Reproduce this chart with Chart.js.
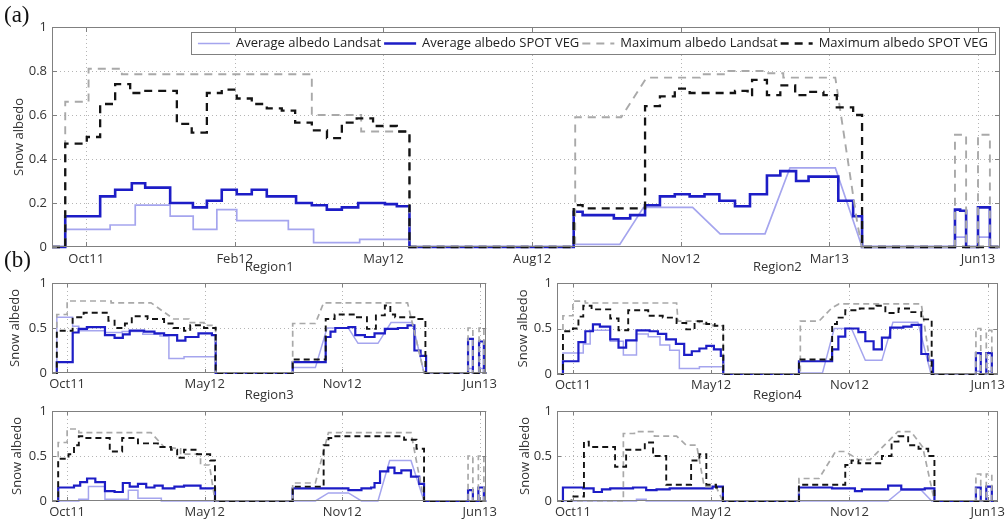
<!DOCTYPE html>
<html>
<head>
<meta charset="utf-8">
<script src="https://cdn.jsdelivr.net/npm/chart.js@4.4.1/dist/chart.umd.min.js"></script>
<style>
body { margin: 0; background: #fff; }
#wrap { position: relative; width: 1008px; height: 521px; overflow: hidden; background: #fff; }
canvas { position: absolute; }
.tag { position: absolute; font-family: "Liberation Serif", "DejaVu Serif", serif; font-size: 23px; color: #111; z-index: 5; }
</style>
</head>
<body>
<div id="wrap">
  <canvas id="chartA" width="1008" height="272" style="left:0;top:0"></canvas>
  <canvas id="chartR1" width="500" height="130" style="left:0;top:262px"></canvas>
  <canvas id="chartR2" width="508" height="130" style="left:500px;top:262px"></canvas>
  <canvas id="chartR3" width="500" height="131" style="left:0;top:390px"></canvas>
  <canvas id="chartR4" width="508" height="131" style="left:500px;top:390px"></canvas>
  <div class="tag" style="left:4px;top:2px">(a)</div>
  <div class="tag" style="left:4px;top:247px">(b)</div>
</div>
<script>
// x is counted in composite periods from Oct11 (tick labels every 10 in (a), every 20 in (b))
const mainTickPos = [0, 10, 20, 30, 40, 50, 60];
const mainTickLabels = ['Oct11', 'Feb12', 'May12', 'Aug12', 'Nov12', 'Mar13', 'Jun13'];
const regionTickPos = [0, 20, 40, 60];
const regionTickLabels = ['Oct11', 'May12', 'Nov12', 'Jun13'];
const seriesNames = ['Average albedo Landsat', 'Average albedo SPOT VEG', 'Maximum albedo Landsat', 'Maximum albedo SPOT VEG'];
const regionTitles = ['Region1', 'Region2', 'Region3', 'Region4'];

// SPOT VEG series: [x, y] where y holds until the next x (stairs)
// Landsat series: [x, y] vertices joined by straight lines

// (a) whole area
const aAvgLandsat = [[-2.3,0],[-1.41,0],[-1.41,0.08],[1.61,0.08],[1.61,0.10],[3.3,0.10],[3.3,0.19],[5.65,0.19],[5.65,0.14],[7.2,0.14],[7.2,0.08],[8.79,0.08],[8.79,0.17],[10.13,0.17],[10.13,0.12],[13.6,0.12],[13.6,0.08],[15.3,0.08],[15.3,0.02],[18.4,0.02],[18.4,0.035],[21.75,0.035],[21.75,0],[32.8,0],[32.8,0.012],[35.9,0.012],[37.5,0.18],[40.8,0.18],[42.65,0.06],[45.67,0.06],[47.35,0.36],[50.4,0.36],[52.2,0],[58.45,0],[58.45,0.045],[59.2,0.045],[59.2,0],[60.0,0],[60.0,0.045],[60.8,0.045],[60.8,0],[61.48,0]];
const aAvgSpot = [[-2.3,0],[-1.41,0.14],[0.94,0.23],[1.95,0.26],[3.07,0.29],[3.97,0.27],[5.65,0.20],[7.18,0.18],[8.12,0.21],[9.12,0.26],[10.13,0.24],[11.14,0.26],[12.15,0.23],[14.12,0.20],[15.18,0.19],[16.19,0.17],[17.2,0.18],[18.3,0.20],[20.1,0.195],[20.9,0.185],[21.75,0],[32.8,0.16],[33.4,0.145],[35.5,0.13],[36.6,0.145],[37.6,0.19],[38.6,0.23],[39.6,0.24],[40.6,0.23],[41.6,0.24],[42.6,0.21],[43.65,0.185],[44.66,0.24],[45.8,0.325],[46.7,0.345],[47.76,0.30],[48.6,0.32],[50.6,0.21],[51.6,0.14],[52.2,0],[58.45,0.17],[58.8,0.165],[59.2,0],[60.0,0.18],[60.8,0],[61.48,0]];
const aMaxLandsat = [[-2.3,0],[-1.41,0],[-1.41,0.66],[0.16,0.66],[0.16,0.81],[2.4,0.81],[2.4,0.785],[15.18,0.785],[15.18,0.60],[18.5,0.60],[18.5,0.525],[21.75,0.525],[21.75,0],[32.9,0],[32.9,0.59],[36.0,0.59],[37.7,0.77],[41.3,0.77],[41.3,0.785],[43.0,0.785],[43.0,0.80],[45.6,0.80],[45.6,0.79],[46.9,0.79],[46.9,0.77],[50.4,0.77],[51.9,0.1],[52.2,0],[58.45,0],[58.45,0.51],[59.2,0.51],[59.2,0],[60.0,0],[60.0,0.51],[60.8,0.51],[60.8,0],[61.48,0]];
const aMaxSpot = [[-2.3,0],[-1.41,0.47],[0.04,0.50],[0.94,0.65],[1.95,0.74],[2.96,0.70],[3.9,0.71],[6.1,0.56],[7.1,0.52],[8.12,0.70],[9.12,0.715],[10.13,0.675],[11.14,0.65],[12.15,0.63],[13.16,0.62],[14.06,0.565],[15.18,0.53],[16.2,0.495],[17.2,0.565],[18.2,0.585],[19.3,0.55],[20.9,0.525],[21.75,0],[32.8,0.19],[33.4,0.176],[37.6,0.64],[38.6,0.685],[39.6,0.72],[40.6,0.70],[43.65,0.71],[44.5,0.69],[44.8,0.76],[45.8,0.69],[46.7,0.735],[47.7,0.69],[48.5,0.705],[49.6,0.69],[50.5,0.635],[51.6,0.60],[52.2,0],[61.48,0]];

// (b) Region1
const r1AvgLandsat = [[-2.2,0],[-1.5,0],[-1.5,0.62],[0.8,0.62],[0.8,0.52],[1.7,0.52],[1.7,0.47],[5.5,0.47],[5.5,0.45],[8,0.45],[8,0.46],[11,0.46],[11,0.43],[13.5,0.43],[13.5,0.41],[14.8,0.41],[14.8,0.16],[17,0.16],[17,0.18],[21.6,0.18],[21.6,0],[32.8,0],[32.8,0.06],[36.1,0.06],[37.8,0.50],[40.9,0.50],[42.3,0.33],[45.2,0.33],[47.1,0.56],[50.2,0.56],[51.9,0],[58.3,0],[58.3,0.05],[59,0.05],[59,0],[59.9,0],[59.9,0.05],[60.6,0.05],[60.6,0],[60.95,0]];
const r1AvgSpot = [[-2.2,0],[-1.5,0.12],[0.81,0.45],[1.67,0.49],[2.87,0.51],[5.5,0.42],[6.9,0.39],[8.1,0.43],[9.1,0.47],[11.2,0.46],[12.7,0.44],[14.1,0.42],[16.0,0.36],[17.2,0.40],[19.1,0.44],[21.05,0.42],[21.6,0],[32.8,0.12],[37.6,0.40],[38.3,0.46],[39.0,0.50],[40.9,0.51],[41.9,0.42],[43.3,0.40],[44.7,0.44],[46.2,0.49],[48.1,0.50],[49.5,0.53],[50.5,0.25],[51.4,0.19],[52.2,0],[58.3,0.38],[59.0,0],[59.9,0.35],[60.6,0],[60.95,0]];
const r1MaxLandsat = [[-2.2,0],[-1.5,0],[-1.5,0.65],[0,0.65],[0,0.80],[6.4,0.80],[6.4,0.78],[12.2,0.78],[15.5,0.60],[17.7,0.60],[17.7,0.56],[19.9,0.56],[19.9,0.53],[21.6,0.53],[21.6,0],[32.8,0],[32.8,0.55],[36.1,0.55],[37.3,0.78],[49.5,0.78],[51.9,0],[58.3,0],[58.3,0.5],[59,0.5],[59,0],[59.9,0],[59.9,0.5],[60.6,0.5],[60.6,0],[60.95,0]];
const r1MaxSpot = [[-2.2,0],[-1.5,0.47],[0.8,0.62],[2.4,0.67],[6.0,0.58],[6.9,0.50],[8.4,0.55],[9.4,0.63],[11.7,0.60],[14.1,0.55],[15.5,0.50],[17,0.47],[17.9,0.53],[19.9,0.50],[21.6,0],[32.8,0.15],[37.6,0.60],[38.9,0.65],[41.9,0.62],[43.6,0.49],[44.9,0.64],[46.2,0.75],[47,0.65],[47.7,0.62],[50.5,0.60],[52.1,0],[60.95,0]];

// (b) Region2
const r2AvgLandsat = [[-2.3,0],[-1.44,0],[-1.44,0.23],[1.5,0.23],[1.5,0.33],[2.5,0.33],[2.5,0.48],[5.4,0.48],[5.4,0.36],[7.3,0.36],[7.3,0.21],[9.2,0.21],[9.2,0.44],[10.9,0.44],[10.9,0.41],[12.6,0.41],[12.6,0.32],[14.0,0.32],[14.0,0.26],[15.4,0.26],[15.4,0.06],[18.3,0.06],[18.3,0.08],[21.75,0.08],[21.75,0],[32.7,0],[32.7,0.01],[36.1,0.01],[37.8,0.50],[40.3,0.50],[42.3,0.15],[44.7,0.15],[46.3,0.57],[49.9,0.57],[51.8,0],[58.3,0],[58.3,0.03],[59,0.03],[59,0],[59.8,0],[59.8,0.03],[60.6,0.03],[60.6,0],[61.45,0]];
const r2AvgSpot = [[-2.3,0],[-1.44,0.14],[0.8,0.35],[1.8,0.47],[2.9,0.545],[3.9,0.52],[5.4,0.38],[6.6,0.29],[7.7,0.37],[9.2,0.48],[11.1,0.47],[12.3,0.44],[13.5,0.38],[14.9,0.33],[16.1,0.21],[17.2,0.25],[18.3,0.28],[19.3,0.31],[20.4,0.27],[21.4,0.20],[21.75,0],[32.7,0.14],[37.5,0.27],[38.4,0.41],[39.4,0.50],[41.3,0.46],[42.3,0.36],[43.5,0.27],[44.7,0.40],[45.9,0.51],[47.8,0.52],[49.0,0.54],[50.4,0.22],[51.4,0.15],[52.1,0],[58.3,0.23],[59.0,0],[59.8,0.23],[60.6,0],[61.45,0]];
const r2MaxLandsat = [[-2.3,0],[-1.44,0],[-1.44,0.64],[0,0.64],[0,0.80],[1.8,0.80],[1.8,0.78],[15.0,0.78],[15.2,0.58],[18.3,0.58],[18.3,0.55],[20.2,0.55],[20.2,0.53],[21.75,0.53],[21.75,0],[32.9,0],[32.9,0.58],[35.6,0.58],[37.5,0.73],[38.5,0.77],[50.4,0.77],[51.9,0],[58.3,0],[58.3,0.5],[59,0.5],[59,0],[59.8,0],[59.8,0.48],[60.6,0.48],[60.6,0],[61.45,0]];
const r2MaxSpot = [[-2.3,0],[-1.44,0.47],[0,0.50],[0.8,0.63],[1.5,0.75],[2.7,0.71],[5.4,0.61],[6.6,0.48],[8.0,0.70],[10.9,0.64],[13.0,0.62],[15.0,0.56],[16.4,0.49],[17.6,0.58],[19.3,0.55],[20.5,0.53],[21.75,0],[32.7,0.16],[37.5,0.55],[38.2,0.62],[39.4,0.70],[41.5,0.72],[43.9,0.75],[45.2,0.67],[47.1,0.72],[48.8,0.68],[50.4,0.60],[51.9,0],[61.45,0]];

// (b) Region3
const r3AvgLandsat = [[-2.2,0],[1.7,0],[1.7,0.02],[3.1,0.02],[3.1,0.16],[5.5,0.16],[5.5,0.02],[8.9,0.02],[8.9,0.12],[10.3,0.12],[10.3,0.03],[13.7,0.03],[13.7,0],[36.1,0],[38.0,0.09],[40.9,0.09],[42.8,0],[45.2,0],[46.9,0.45],[50.0,0.45],[51.9,0],[60.95,0]];
const r3AvgSpot = [[-2.2,0],[-1.3,0.15],[1.0,0.17],[1.9,0.21],[2.9,0.25],[4.1,0.21],[5.5,0.11],[6.9,0.10],[8.1,0.20],[9.1,0.16],[10.3,0.19],[11.5,0.15],[12.7,0.17],[13.9,0.14],[15.6,0.16],[17.0,0.17],[19.4,0.14],[21.5,0],[32.8,0.14],[40.9,0.12],[42.8,0.14],[44.2,0.15],[44.7,0.20],[45.5,0.33],[46.7,0.37],[47.6,0.31],[48.6,0.34],[50.0,0.27],[51.2,0.19],[51.9,0],[58.3,0.12],[59.0,0],[59.8,0.15],[60.6,0],[60.95,0]];
const r3MaxLandsat = [[-2.2,0],[-1.3,0],[-1.3,0.65],[0,0.65],[0,0.80],[1.7,0.80],[1.7,0.76],[12.2,0.76],[14.1,0.60],[16.5,0.58],[16.5,0.52],[19.4,0.52],[19.4,0.40],[20.7,0.40],[21.5,0],[32.8,0],[32.8,0.2],[36.1,0.2],[38.0,0.76],[50.0,0.76],[51.9,0],[58.3,0],[58.3,0.5],[59,0.5],[59,0],[59.8,0],[59.8,0.5],[60.6,0.5],[60.6,0],[60.95,0]];
const r3MaxSpot = [[-2.2,0],[-1.3,0.47],[0.2,0.52],[1.0,0.62],[1.7,0.72],[2.6,0.70],[6.2,0.55],[8.0,0.70],[10.3,0.64],[13.2,0.60],[15.1,0.57],[16.0,0.48],[17.0,0.57],[18.9,0.52],[20.8,0.45],[21.5,0],[32.8,0.16],[37.3,0.62],[38.0,0.70],[39.0,0.72],[49.0,0.68],[50.8,0.58],[51.9,0],[60.95,0]];

// (b) Region4
const r4AvgLandsat = [[-2.3,0],[9.2,0],[9.2,0.02],[10.6,0.02],[10.6,0],[45.6,0],[47.5,0.12],[50.4,0.12],[51.9,0],[61.45,0]];
const r4AvgSpot = [[-2.3,0],[-1.44,0.15],[1.5,0.14],[3.0,0.10],[4.2,0.13],[5.4,0.14],[8.7,0.15],[10.6,0.12],[12.1,0.13],[14.0,0.14],[20.2,0.16],[21.7,0],[32.7,0.15],[37.5,0.14],[40.8,0.11],[41.8,0.13],[45.6,0.17],[47.5,0.13],[50.9,0.14],[52.3,0],[58.3,0.15],[59.0,0],[59.8,0.16],[60.6,0],[61.45,0]];
const r4MaxLandsat = [[-2.3,0],[7.3,0],[7.3,0.75],[8.9,0.75],[8.9,0.77],[11.8,0.77],[11.8,0.72],[15.0,0.72],[16.4,0.62],[17.9,0.62],[19.0,0.16],[20.7,0.16],[21.7,0],[32.7,0],[32.7,0.25],[35.6,0.25],[38.0,0.55],[39.4,0.55],[41.3,0.46],[43.0,0.46],[47.0,0.77],[48.9,0.77],[50.6,0.6],[52.3,0],[58.3,0],[58.3,0.3],[59,0.3],[59,0],[59.8,0],[59.8,0.3],[60.6,0.3],[60.6,0],[61.45,0]];
const r4MaxSpot = [[-2.3,0],[-0.2,0.05],[1.6,0.66],[2.3,0.60],[6.1,0.38],[7.7,0.57],[10.4,0.65],[11.6,0.50],[13.5,0.18],[17.1,0.45],[18.3,0.52],[19.3,0.18],[20.7,0.15],[21.7,0],[32.7,0.18],[39.4,0.40],[40.3,0.45],[41.3,0.42],[44.7,0.50],[46.1,0.66],[47.1,0.72],[48.5,0.62],[50.0,0.58],[51.4,0.50],[52.3,0],[61.45,0]];

Chart.defaults.font.family = '"Open Sans", "Noto Sans", sans-serif';
Chart.defaults.font.size = 13;
Chart.defaults.color = '#333';

function lineStyles(big) {
    return [
        {color: '#a5a5ee', width: big ? 1.7 : 1.5, dash: [], stepped: false},
        {color: '#1d1dc6', width: big ? 2.6 : 2.2, dash: [], stepped: true},
        {color: '#a9a9a9', width: big ? 1.9 : 1.7, dash: big ? [8, 6] : [6, 4], stepped: false},
        {color: '#141414', width: big ? 2.3 : 1.9, dash: big ? [8, 6] : [6, 4], stepped: true}
    ];
}

// dotted grid, box, inward ticks, region title and the inside legend
const framePlugin = {
    id: 'frame',
    beforeDatasetsDraw(chart) {
        const ctx = chart.ctx, a = chart.chartArea, sx = chart.scales.x, sy = chart.scales.y;
        ctx.save();
        ctx.strokeStyle = '#b5b5b5';
        ctx.lineWidth = 1;
        ctx.setLineDash([1, 3]);
        ctx.beginPath();
        sx.ticks.forEach(function(t) {
            const px = Math.round(sx.getPixelForValue(t.value)) + 0.5;
            ctx.moveTo(px, a.top); ctx.lineTo(px, a.bottom);
        });
        sy.ticks.forEach(function(t) {
            if (t.value <= 0 || t.value >= 1) return;
            const py = Math.round(sy.getPixelForValue(t.value)) + 0.5;
            ctx.moveTo(a.left, py); ctx.lineTo(a.right, py);
        });
        ctx.stroke();
        ctx.restore();
    },
    afterDatasetsDraw(chart, args, opts) {
        const ctx = chart.ctx, a = chart.chartArea, sx = chart.scales.x, sy = chart.scales.y;
        const len = opts.tickLen || 4;
        ctx.save();
        ctx.strokeStyle = '#808080';
        ctx.lineWidth = 1;
        ctx.strokeRect(Math.round(a.left) + 0.5, Math.round(a.top) + 0.5, Math.round(a.right - a.left) - 1, Math.round(a.bottom - a.top) - 1);
        ctx.beginPath();
        sx.ticks.forEach(function(t) {
            const px = Math.round(sx.getPixelForValue(t.value)) + 0.5;
            ctx.moveTo(px, a.bottom); ctx.lineTo(px, a.bottom - len);
            ctx.moveTo(px, a.top); ctx.lineTo(px, a.top + len);
        });
        sy.ticks.forEach(function(t) {
            const py = Math.round(sy.getPixelForValue(t.value)) + 0.5;
            ctx.moveTo(a.left, py); ctx.lineTo(a.left + len, py);
            ctx.moveTo(a.right, py); ctx.lineTo(a.right - len, py);
        });
        ctx.stroke();

        if (opts.title) {
            ctx.fillStyle = '#333';
            ctx.font = '13px "Open Sans", "Noto Sans", sans-serif';
            ctx.textAlign = 'center';
            ctx.textBaseline = 'middle';
            ctx.fillText(opts.title, (a.left + a.right) / 2, a.top - 16);
        }

        if (opts.legend) {
            const sets = chart.data.datasets;
            const lineLen = 32, gapText = 6, gapItem = 3, padX = 7, boxH = 22;
            ctx.font = '13px "Open Sans", "Noto Sans", sans-serif';
            const widths = sets.map(function(d) { return lineLen + gapText + ctx.measureText(d.label).width + gapItem; });
            const total = widths.reduce(function(s, w) { return s + w; }, 0) - gapItem + 2 * padX;
            const right = a.right - 5, left = right - total, top = a.top + 5;
            ctx.fillStyle = '#fff';
            ctx.fillRect(left, top, total, boxH);
            ctx.strokeStyle = '#808080';
            ctx.lineWidth = 1;
            ctx.strokeRect(Math.round(left) + 0.5, top + 0.5, Math.round(total), boxH);
            let x = left + padX;
            const my = top + boxH / 2 + 0.5;
            sets.forEach(function(d, i) {
                ctx.save();
                ctx.strokeStyle = d.borderColor;
                ctx.lineWidth = d.borderWidth;
                ctx.setLineDash(d.borderDash || []);
                ctx.beginPath();
                ctx.moveTo(x, my); ctx.lineTo(x + lineLen, my);
                ctx.stroke();
                ctx.restore();
                ctx.fillStyle = '#222';
                ctx.textAlign = 'left';
                ctx.textBaseline = 'middle';
                ctx.fillText(d.label, x + lineLen + gapText, my);
                x += widths[i];
            });
        }
        ctx.restore();
    }
};

function makeChart(p) {
    const styles = lineStyles(p.big);
    const datasets = p.series.map(function(s, i) {
        return {
            label: seriesNames[i],
            data: s.map(function(v) { return {x: v[0], y: v[1]}; }),
            borderColor: styles[i].color,
            borderWidth: styles[i].width,
            borderDash: styles[i].dash,
            stepped: styles[i].stepped,
            pointRadius: 0,
            pointHoverRadius: 0,
            fill: false,
            tension: 0,
            clip: false,
            order: 3 - i
        };
    });
    return new Chart(document.getElementById(p.id), {
        type: 'line',
        data: {datasets: datasets},
        options: {
            responsive: false,
            animation: false,
            events: [],
            layout: {padding: {top: p.top, right: p.right, left: 0, bottom: 0}},
            plugins: {
                legend: {display: false},
                tooltip: {enabled: false},
                frame: {title: p.title, legend: p.legend, tickLen: p.big ? 5 : 4}
            },
            scales: {
                x: {
                    type: 'linear',
                    min: p.xmin,
                    max: p.xmax,
                    grid: {display: false, drawTicks: false},
                    border: {display: false},
                    afterBuildTicks: function(scale) {
                        scale.ticks = p.tickPos.map(function(v) { return {value: v}; });
                    },
                    afterFit: function(scale) { scale.height = p.xh; },
                    ticks: {
                        padding: p.big ? 4 : 3,
                        maxRotation: 0,
                        autoSkip: false,
                        color: '#333',
                        callback: function(v) { return p.tickLabels[p.tickPos.indexOf(v)]; }
                    }
                },
                y: {
                    min: 0,
                    max: 1,
                    grid: {display: false, drawTicks: false},
                    border: {display: false},
                    afterFit: function(scale) { scale.width = p.yw; },
                    ticks: {
                        stepSize: p.ystep,
                        padding: 5,
                        color: '#333',
                        callback: function(v) { return (v === 0 || v === 1) ? String(v) : v.toFixed(1); }
                    },
                    title: {display: true, text: 'Snow albedo', color: '#333', padding: {top: p.titlePad, bottom: 0}}
                }
            }
        },
        plugins: [framePlugin]
    });
}

makeChart({id: 'chartA', series: [aAvgLandsat, aAvgSpot, aMaxLandsat, aMaxSpot], big: true, legend: true,
    xmin: -2.3, xmax: 61.48, tickPos: mainTickPos, tickLabels: mainTickLabels, ystep: 0.2,
    top: 27, right: 8, yw: 52, xh: 25, titlePad: 11});
makeChart({id: 'chartR1', series: [r1AvgLandsat, r1AvgSpot, r1MaxLandsat, r1MaxSpot], title: regionTitles[0],
    xmin: -2.2, xmax: 60.95, tickPos: regionTickPos, tickLabels: regionTickLabels, ystep: 0.5,
    top: 21, right: 7, yw: 52, xh: 19, titlePad: 7});
makeChart({id: 'chartR2', series: [r2AvgLandsat, r2AvgSpot, r2MaxLandsat, r2MaxSpot], title: regionTitles[1],
    xmin: -2.3, xmax: 61.45, tickPos: regionTickPos, tickLabels: regionTickLabels, ystep: 0.5,
    top: 21, right: 8, yw: 57, xh: 18, titlePad: 15});
makeChart({id: 'chartR3', series: [r3AvgLandsat, r3AvgSpot, r3MaxLandsat, r3MaxSpot], title: regionTitles[2],
    xmin: -2.2, xmax: 60.95, tickPos: regionTickPos, tickLabels: regionTickLabels, ystep: 0.5,
    top: 21, right: 7, yw: 52, xh: 20, titlePad: 9});
makeChart({id: 'chartR4', series: [r4AvgLandsat, r4AvgSpot, r4MaxLandsat, r4MaxSpot], title: regionTitles[3],
    xmin: -2.3, xmax: 61.45, tickPos: regionTickPos, tickLabels: regionTickLabels, ystep: 0.5,
    top: 21, right: 8, yw: 57, xh: 20, titlePad: 17});
</script>
</body>
</html>
